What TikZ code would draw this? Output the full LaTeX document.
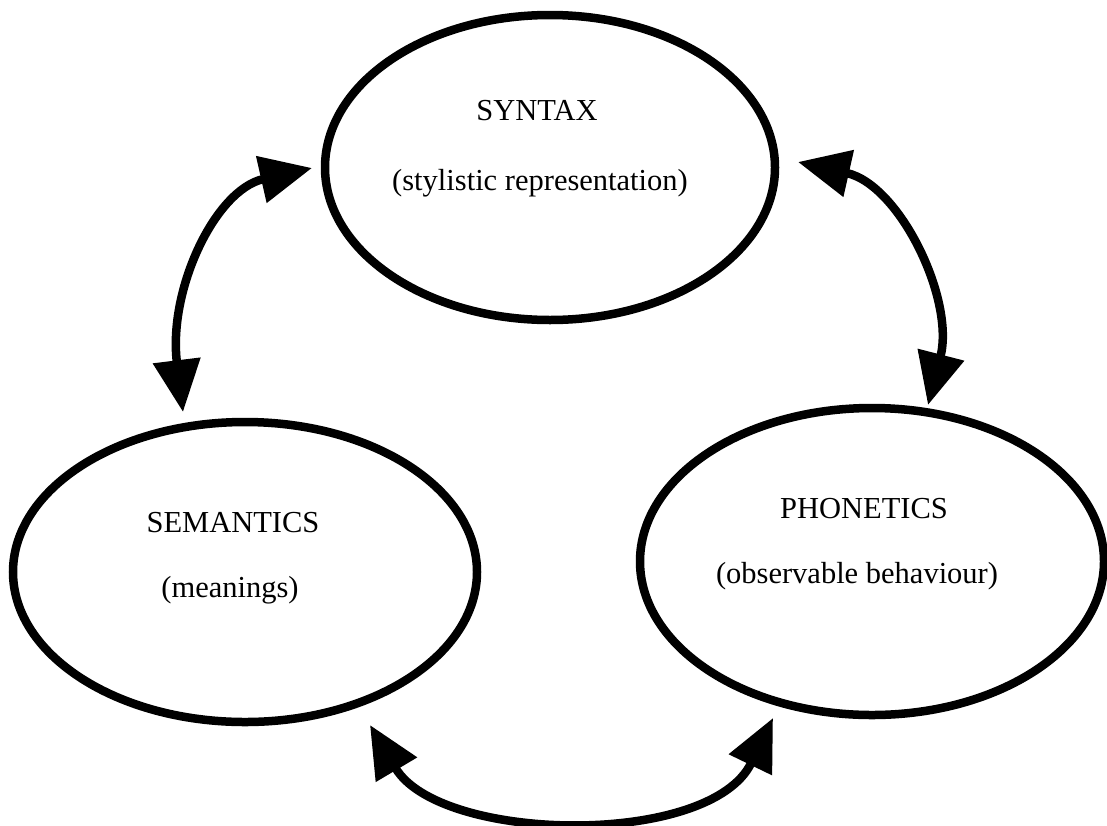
\documentclass[tikz,border=0pt]{standalone}
\usepackage{fontspec}
\setmainfont{Liberation Serif}
\usetikzlibrary{shapes.geometric,arrows.meta}
\begin{document}
\begin{tikzpicture}[x=1pt,y=-1pt,
  bubble/.style={ellipse, draw=black, line width=8.5pt, inner sep=0pt},
  label/.style={anchor=base, font=\fontsize{30.5}{32}\selectfont, inner sep=0pt},
  link/.style={line width=8.5pt, {Triangle[length=52pt,width=46pt]}-{Triangle[length=52pt,width=46pt]}}
]
\useasboundingbox (0,0) rectangle (1107,825);
\fill[white] (0,0) rectangle (1107,825);

\node[bubble, minimum width=450pt, minimum height=305pt] (syn) at (550,167.5) {};
\node[bubble, minimum width=464pt, minimum height=300pt] (sem) at (245,572) {};
\node[bubble, minimum width=464pt, minimum height=307pt] (pho) at (872,561.5) {};

\node[label] (synT) at (537,120) {SYNTAX};
\node[label] (synS) at (540,190) {(stylistic representation)};
\node[label] (semT) at (233,532) {SEMANTICS};
\node[label] (semS) at (230,597) {(meanings)};
\node[label] (phoT) at (864,518) {PHONETICS};
\node[label] (phoS) at (857,583) {(observable behaviour)};

\coordinate (l1) at (312,168);
\coordinate (l2) at (183,412);
\coordinate (r1) at (798,162);
\coordinate (r2) at (928,405);
\coordinate (b1) at (370,725);
\coordinate (b2) at (773,718);

\draw[link] (l1) .. controls (215,190) and (168,290) .. (l2);
\draw[link] (r1) .. controls (900,185) and (955,300) .. (r2);
\draw[link] (b1) .. controls (440,843) and (710,848) .. (b2);
\end{tikzpicture}
\end{document}
